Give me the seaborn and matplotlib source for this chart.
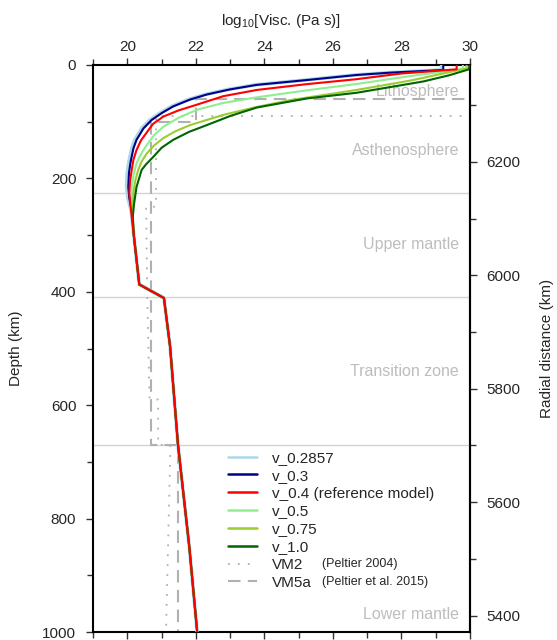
import matplotlib
matplotlib.use("Agg")
import matplotlib.pyplot as plt
import seaborn as sns
import numpy as np
import pandas as pd
from matplotlib.ticker import MultipleLocator, FixedLocator

# ---------------- data ----------------
# shared deep part of all v_ profiles (depth km, log10 viscosity)
deep_depth = [300, 387, 411, 497, 580, 670, 850, 1000]
deep_visc = [20.19, 20.35, 21.07, 21.25, 21.36, 21.48, 21.81, 22.04]

v02857_depth = [0, 8.8, 13.5, 17.6, 26.5, 35, 43, 52, 61, 73, 85, 97, 112, 132, 147, 170, 190, 215, 235, 256]
v02857_visc = [29.17, 29.17, 27.62, 26.64, 25.19, 23.73, 22.95, 22.27, 21.78, 21.29, 20.95, 20.66,
               20.42, 20.22, 20.13, 20.05, 20.00, 19.98, 20.02, 20.11]

v03_depth = [0, 8.8, 13.5, 17.6, 26.5, 35, 43, 52, 61, 73, 85, 97, 112, 132, 147, 170, 190, 215, 235, 256]
v03_visc = [29.22, 29.22, 27.67, 26.69, 25.24, 23.78, 23.00, 22.32, 21.83, 21.34, 21.00, 20.71,
            20.47, 20.27, 20.18, 20.10, 20.05, 20.03, 20.06, 20.13]

v04_depth = [0, 7.6, 15, 25, 34, 44, 55, 70, 80, 91, 104, 118, 133, 150, 167, 185, 205, 226, 250, 267]
v04_visc = [29.61, 29.61, 28.0, 26.69, 25.2, 23.78, 22.8, 22.03, 21.5, 21.05, 20.75, 20.58,
            20.40, 20.27, 20.18, 20.13, 20.08, 20.06, 20.10, 20.13]

v05_depth = [0, 7, 20, 33.5, 45, 57, 67, 79, 93, 109, 124, 141, 157, 173, 195, 215, 256]
v05_visc = [29.79, 29.79, 28.2, 26.69, 25.2, 23.78, 22.8, 22.03, 21.5, 21.05, 20.78, 20.57,
            20.40, 20.27, 20.18, 20.13, 20.13]

v075_depth = [0, 6, 27, 44, 62, 75, 88, 106, 117, 129, 142, 156, 170, 185, 205, 226, 261]
v075_visc = [29.90, 29.90, 28.3, 26.69, 24.75, 23.7, 22.80, 21.83, 21.4, 21.05, 20.78, 20.57,
             20.42, 20.32, 20.23, 20.18, 20.16]

v10_depth = [0, 8, 18, 29, 49, 59, 75, 90, 106, 118, 132, 146, 162, 175, 185, 215, 244, 268]
v10_visc = [30.0, 29.95, 29.4, 28.64, 26.69, 25.24, 23.78, 23.0, 22.32, 21.8, 21.34, 21.0,
            20.76, 20.55, 20.42, 20.27, 20.20, 20.16]

vm2_depth = [0, 90, 90, 250, 250, 400, 590, 590, 670, 670, 1000]
vm2_visc = [30.0, 30.0, 20.84, 20.84, 20.55, 20.58, 20.65, 20.90, 20.90, 21.26, 21.13]

vm5a_depth = [0, 60, 60, 100, 100, 670, 670, 1000]
vm5a_visc = [30.0, 30.0, 22.0, 22.0, 20.7, 20.7, 21.49, 21.49]

boundaries = [225, 410, 670]
region_names = ["Lithosphere", "Asthenosphere", "Upper mantle", "Transition zone", "Lower mantle"]
region_depths = [47, 150, 317, 541, 970]
radius_ticks = [5400, 5600, 5800, 6000, 6200]

series = [
    ("v_0.2857", v02857_depth, v02857_visc, "#add8e6", 2.6, 3),
    ("v_0.3", v03_depth, v03_visc, "#00008b", 1.5, 4),
    ("v_0.4 (reference model)", v04_depth, v04_visc, "#ff0000", 1.5, 9),
    ("v_0.5", v05_depth, v05_visc, "#90ee90", 1.5, 5),
    ("v_0.75", v075_depth, v075_visc, "#9acd32", 1.5, 6),
    ("v_1.0", v10_depth, v10_visc, "#006400", 1.5, 7),
]

# ---------------- style ----------------
sns.set_style("ticks")
plt.rcParams["font.family"] = ["Liberation Sans", "DejaVu Sans"]
plt.rcParams["mathtext.fontset"] = "custom"
plt.rcParams["mathtext.rm"] = "Liberation Sans"
plt.rcParams["mathtext.it"] = "Liberation Sans:italic"

fig = plt.figure(figsize=(5.57, 6.4), dpi=100)
W, H = 557, 640
ax = fig.add_axes([93 / W, 1 - 632 / H, (470 - 93) / W, (632 - 65) / H])

# boundaries
for b in boundaries:
    ax.axhline(b, color="#d4d4d4", lw=1.0, zorder=1)

# reference models
grey = "#b0b0b0"
sns.lineplot(x=vm2_visc, y=vm2_depth, sort=False, estimator=None, color=grey,
             lw=1.3, ax=ax, zorder=2, label="VM2")
ax.lines[-1].set_dashes((1, 4.5))
sns.lineplot(x=vm5a_visc, y=vm5a_depth, sort=False, estimator=None, color=grey,
             lw=1.5, ax=ax, zorder=2, label="VM5a")
ax.lines[-1].set_dashes((6, 3.5))
vm_lines = ax.lines[-2:]

curve_lines = []
for name, d, v, c, lw, z in series:
    dd = list(d) + deep_depth
    vv = list(v) + deep_visc
    sns.lineplot(x=vv, y=dd, sort=False, estimator=None, color=c, lw=lw,
                 ax=ax, zorder=z, label=name)
    ax.lines[-1].set_solid_joinstyle("round")
    curve_lines.append(ax.lines[-1])

# region labels
for name, dep in zip(region_names, region_depths):
    ax.text(29.68, dep, name, ha="right", va="center", color="#bdbdbd", fontsize=11.5)

ax.set_xlim(19, 30)
ax.set_ylim(1000, 0)

ax.xaxis.set_major_locator(MultipleLocator(2))
ax.xaxis.set_minor_locator(MultipleLocator(1))
ax.yaxis.set_major_locator(MultipleLocator(200))
ax.yaxis.set_minor_locator(MultipleLocator(100))
ax.xaxis.set_ticks_position("both")
ax.xaxis.set_label_position("top")
ax.tick_params(axis="x", which="both", labeltop=True, labelbottom=False,
               direction="out", top=True, bottom=True)
ax.tick_params(axis="both", which="major", length=5, width=1.0, labelsize=11,
               color="#333333", pad=3)
ax.tick_params(axis="both", which="minor", length=4, width=1.0, color="#333333")
ax.tick_params(axis="y", which="major", pad=7)
ax.set_xlabel("log$_{10}$[Visc. (Pa s)]", fontsize=11, labelpad=11)
ax.set_ylabel("Depth (km)", fontsize=11, labelpad=14)

for s in ax.spines.values():
    s.set_linewidth(1.5)
    s.set_color("black")

sec = ax.secondary_yaxis("right", functions=(lambda d: 6371 - d, lambda r: 6371 - r))
sec.yaxis.set_major_locator(FixedLocator(radius_ticks))
sec.yaxis.set_minor_locator(FixedLocator([5500, 5700, 5900, 6100, 6300]))
sec.tick_params(which="major", length=5, width=1.0, labelsize=11, color="#333333", pad=7)
sec.tick_params(which="minor", length=4, width=1.0, color="#333333")
sec.spines["right"].set_linewidth(1.5)
sec.set_ylabel("Radial distance (km)", fontsize=11, labelpad=14, rotation=90)

# legend
handles = curve_lines + vm_lines
labels = [s[0] for s in series] + ["VM2", "VM5a"]
leg = ax.legend(handles, labels, loc="upper left",
                bbox_to_anchor=((228 - 93) / 377, (632 - 451) / 567),
                frameon=False, fontsize=11, handlelength=1.9, handletextpad=1.0,
                labelspacing=0.25, borderpad=0, borderaxespad=0)
for ln in leg.get_lines()[0:6]:
    ln.set_linewidth(1.8)

fig.canvas.draw()
for idx, txt in [(6, "(Peltier 2004)"), (7, "(Peltier et al. 2015)")]:
    bb = leg.get_texts()[idx].get_window_extent()
    yc = (bb.y0 + bb.y1) / 2 + 1
    fig.text(322 / W, yc / H, txt, fontsize=9, ha="left", va="center")

fig.savefig("out.png", dpi=100)
